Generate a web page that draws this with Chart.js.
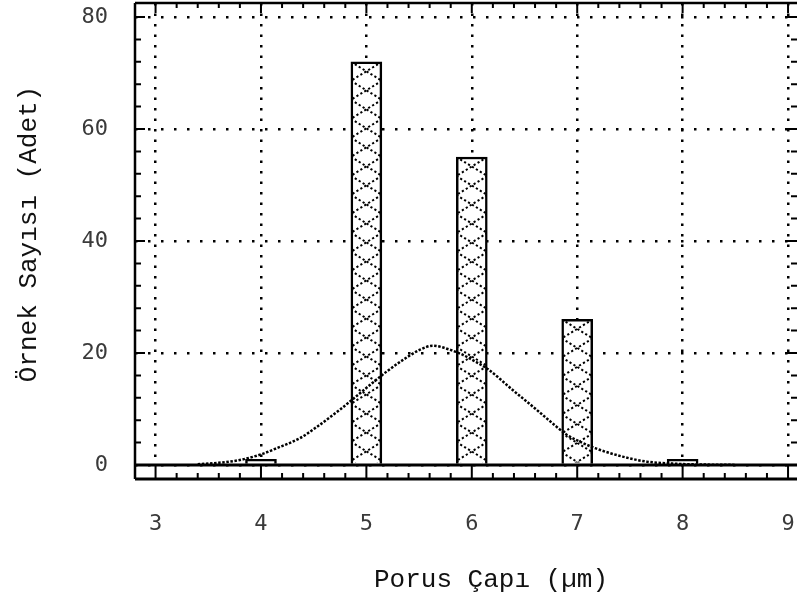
<!DOCTYPE html>
<html><head><meta charset="utf-8">
<script src="https://cdn.jsdelivr.net/npm/chart.js@4"></script>
<style>html,body{margin:0;padding:0;background:#fff}#wrap{width:797px;height:604px}</style>
</head><body><div id="wrap"><canvas id="c"></canvas></div>
<script>
// ---- data ----
const diameters = [4, 5, 6, 7, 8];
const counts = [1, 72, 55, 26, 1];
const curveX = [3.4, 3.6, 3.8, 4.0, 4.15, 4.37, 4.53, 4.75, 4.9, 5.06, 5.2, 5.35, 5.51, 5.63, 5.79, 5.9, 6.03, 6.14, 6.4, 6.6, 6.8, 6.9, 7.0, 7.17, 7.43, 7.66, 7.9, 8.2, 8.5];
const curveY = [0.15, 0.4, 0.9, 1.9, 3.0, 4.8, 6.8, 9.9, 12.2, 14.7, 16.8, 18.8, 20.6, 21.3, 20.6, 19.8, 18.5, 17.3, 13.2, 10.1, 6.9, 5.4, 4.4, 3.0, 1.5, 0.6, 0.25, 0.08, 0.02];
const xTicks = [3, 4, 5, 6, 7, 8, 9];
const yTicks = [0, 20, 40, 60, 80];
const xTitle = 'Porus Çapı (µm)';
const yTitle = 'Örnek Sayısı (Adet)';

const hatchPlugin = {
  id: 'hatch',
  afterDatasetDraw(chart, args) {
    if (args.meta.type !== 'bar') return;
    const ctx = chart.ctx;
    args.meta.data.forEach(el => {
      const p = el.getProps(['x', 'y', 'base', 'width'], true);
      const l = p.x - p.width / 2, r = p.x + p.width / 2;
      const t = Math.min(p.y, p.base), b = Math.max(p.y, p.base);
      if (b - t < 8) return;
      ctx.save();
      ctx.beginPath();
      ctx.rect(l + 1.3, t + 1.3, p.width - 2.6, b - t - 2.6);
      ctx.clip();
      ctx.strokeStyle = '#000';
      ctx.lineWidth = 2;
      ctx.setLineDash([2.2, 2.4]);
      const P = 19;
      ctx.beginPath();
      for (let yy = t; yy < b + P; yy += P) {
        ctx.moveTo(l, yy); ctx.lineTo(r, yy + P);
        ctx.moveTo(r, yy); ctx.lineTo(l, yy + P);
      }
      ctx.stroke();
      ctx.restore();
    });
  }
};

const framePlugin = {
  id: 'frame',
  afterDraw(chart) {
    const ctx = chart.ctx;
    const a = chart.chartArea;
    const xs = chart.scales.x, ys = chart.scales.y;
    const L = a.left, R = a.right, T = a.top, B = a.bottom, S = B + 14;
    ctx.save();
    ctx.strokeStyle = '#000';
    ctx.setLineDash([]);
    ctx.lineWidth = 2.5;
    ctx.beginPath();
    ctx.moveTo(L, T); ctx.lineTo(R, T);
    ctx.moveTo(L, T); ctx.lineTo(L, S);
    ctx.stroke();
    ctx.lineWidth = 3;
    ctx.beginPath();
    ctx.moveTo(L, B); ctx.lineTo(R, B);
    ctx.moveTo(L, S); ctx.lineTo(R, S);
    ctx.stroke();
    ctx.lineWidth = 2;
    ctx.beginPath();
    for (let v = 3; v <= 9.0001; v += 0.2) {
      const px = xs.getPixelForValue(v);
      const major = Math.abs(v - Math.round(v)) < 1e-6;
      if (major) {
        ctx.moveTo(px, B); ctx.lineTo(px, S);
        ctx.moveTo(px, T); ctx.lineTo(px, T + 10);
      } else {
        ctx.moveTo(px, S); ctx.lineTo(px, S - 6);
        ctx.moveTo(px, T); ctx.lineTo(px, T + 5);
      }
    }
    for (let v = 0; v <= 80; v += 4) {
      const py = ys.getPixelForValue(v);
      const len = (v % 20 === 0) ? 10 : 6;
      ctx.moveTo(L, py); ctx.lineTo(L + len, py);
      ctx.moveTo(R, py); ctx.lineTo(R - len, py);
    }
    ctx.stroke();
    ctx.fillStyle = '#111';
    ctx.font = '26px "Liberation Mono"';
    ctx.textAlign = 'center';
    ctx.textBaseline = 'middle';
    ctx.fillText(xTitle, L + 356, chart.height - 24);
    ctx.restore();
  }
};

const tickFont = {family: '"DejaVu Sans Mono"', size: 22};

new Chart(document.getElementById('c'), {
  type: 'bar',
  data: {
    datasets: [
      {
        type: 'line',
        data: curveX.map((x, i) => ({x: x, y: curveY[i]})),
        borderColor: '#000',
        borderWidth: 2.5,
        borderDash: [2.5, 1.6],
        pointRadius: 0,
        cubicInterpolationMode: 'monotone',
        fill: false
      },
      {
        type: 'bar',
        data: diameters.map((d, i) => ({x: d, y: counts[i]})),
        backgroundColor: '#fff',
        borderColor: '#000',
        borderWidth: 2.5,
        barThickness: 31
      }
    ]
  },
  options: {
    responsive: true,
    maintainAspectRatio: false,
    animation: false,
    devicePixelRatio: 1,
    layout: {padding: {top: 3, left: 0, right: 0, bottom: 0}},
    plugins: {legend: {display: false}, tooltip: {enabled: false}},
    scales: {
      x: {
        type: 'linear', min: 2.805, max: 9.085, offset: false,
        afterBuildTicks: s => { s.ticks = xTicks.map(v => ({value: v})); },
        afterFit: s => { s.height = 139; s.paddingLeft = 0; s.paddingRight = 0; },
        grid: {color: '#000', lineWidth: 2.5, drawTicks: false, offset: false},
        border: {display: false, dash: [2.5, 8]},
        ticks: {padding: 46, color: '#3a3a3a', font: tickFont, autoSkip: false, maxRotation: 0}
      },
      y: {
        type: 'linear', min: 0, max: 82.5,
        afterBuildTicks: s => { s.ticks = yTicks.map(v => ({value: v})); },
        afterFit: s => { s.width = 135; s.paddingTop = 0; s.paddingBottom = 0; },
        grid: {color: '#000', lineWidth: 2.5, drawTicks: false},
        border: {display: false, dash: [2.5, 10.5]},
        ticks: {padding: 27, color: '#3a3a3a', font: tickFont},
        title: {display: true, text: yTitle, color: '#111', font: {family: '"Liberation Mono"', size: 26}, padding: {top: 14, bottom: 0}}
      }
    }
  },
  plugins: [hatchPlugin, framePlugin]
});
</script>
</body></html>
